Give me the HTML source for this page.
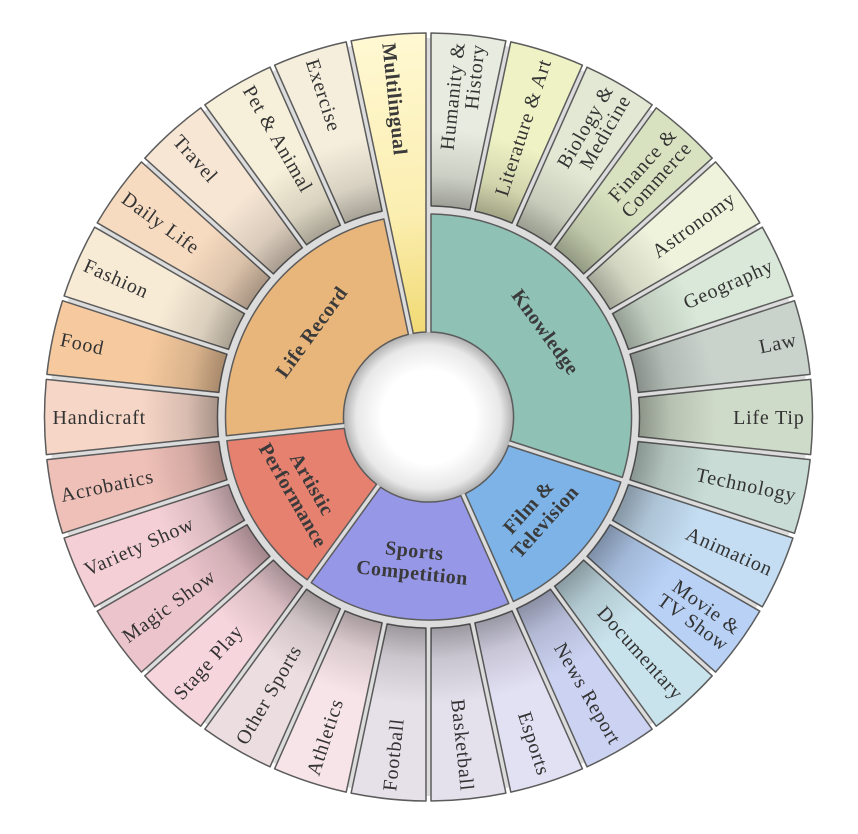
<!DOCTYPE html>
<html><head><meta charset="utf-8"><style>
html,body{margin:0;padding:0;background:#fff;}
svg{display:block;}
text{font-family:"Liberation Serif",serif;fill:#333;font-size:20px;letter-spacing:0.8px;}
.b{font-weight:bold;font-size:20px;fill:#3a3a3a;letter-spacing:0.5px;}
</style></head><body>
<svg width="858" height="834" viewBox="0 0 858 834" xmlns="http://www.w3.org/2000/svg">
<defs>
<path id="leaf" d="M -19.57 -210.10 L -37.65 -382.16 A 384 384 0 0 1 37.65 -382.16 L 19.57 -210.10 A 211 211 0 0 0 -19.57 -210.10 Z"/>
<path id="multi" d="M -6.40 -84.79 L -37.65 -382.16 A 384 384 0 0 1 37.65 -382.16 L 6.40 -84.79 A 85 85 0 0 0 -6.40 -84.79 Z"/>
<path id="i54" d="M -67.30 -51.98 L -162.76 -121.34 A 203 203 0 0 1 162.76 -121.34 L 67.30 -51.98 A 85 85 0 0 0 -67.30 -51.98 Z"/>
<path id="i24" d="M -32.29 -78.67 L -80.28 -186.47 A 203 203 0 0 1 80.28 -186.47 L 32.29 -78.67 A 85 85 0 0 0 -32.29 -78.67 Z"/>
<path id="i30" d="M -40.34 -74.86 L -99.34 -177.05 A 203 203 0 0 1 99.34 -177.05 L 40.34 -74.86 A 85 85 0 0 0 -40.34 -74.86 Z"/>
<path id="i42" d="M -55.02 -64.84 L -133.97 -152.53 A 203 203 0 0 1 133.97 -152.53 L 55.02 -64.84 A 85 85 0 0 0 -55.02 -64.84 Z"/>
<radialGradient id="shade" gradientUnits="userSpaceOnUse" cx="0" cy="0" r="384">
<stop offset="0.55" stop-color="#000" stop-opacity="0.32"/>
<stop offset="0.63" stop-color="#000" stop-opacity="0.12"/>
<stop offset="0.75" stop-color="#000" stop-opacity="0"/>
</radialGradient>
<linearGradient id="mg" gradientUnits="userSpaceOnUse" x1="0" y1="-382" x2="0" y2="-85">
<stop offset="0" stop-color="#fff8d2"/><stop offset="0.6" stop-color="#fbeeb0"/><stop offset="1" stop-color="#f1da74"/>
</linearGradient>
<radialGradient id="hole" cx="0.5" cy="0.5" r="0.5">
<stop offset="0.55" stop-color="#fff"/><stop offset="0.85" stop-color="#e8e8e8"/><stop offset="1" stop-color="#b0b0b0"/>
</radialGradient>
</defs>
<g transform="translate(428.5,417)">
<circle r="232" fill="none" stroke="#dcdcdc" stroke-width="294"/>
<circle r="85" fill="url(#hole)"/>
<g stroke="#5c5c5c" stroke-width="1.5" stroke-linejoin="round">
<use href="#i54" transform="rotate(54)" fill="#8fc1b5"/>
<use href="#i24" transform="rotate(132)" fill="#7db3e6"/>
<use href="#i30" transform="rotate(186)" fill="#9797e8"/>
<use href="#i24" transform="rotate(240)" fill="#e6806f"/>
<use href="#i42" transform="rotate(306)" fill="#e8b57a"/>
<use href="#multi" transform="rotate(354)" fill="url(#mg)"/>
<use href="#leaf" transform="rotate(6)" fill="#e8ebdf"/>
<use href="#leaf" transform="rotate(18)" fill="#eef2c4"/>
<use href="#leaf" transform="rotate(30)" fill="#e3e8d4"/>
<use href="#leaf" transform="rotate(42)" fill="#d8e2c0"/>
<use href="#leaf" transform="rotate(54)" fill="#eff3dc"/>
<use href="#leaf" transform="rotate(66)" fill="#d9e8d8"/>
<use href="#leaf" transform="rotate(78)" fill="#c9d3cc"/>
<use href="#leaf" transform="rotate(90)" fill="#cfdbc9"/>
<use href="#leaf" transform="rotate(102)" fill="#c9dcd6"/>
<use href="#leaf" transform="rotate(114)" fill="#c4ddf2"/>
<use href="#leaf" transform="rotate(126)" fill="#b8d1f5"/>
<use href="#leaf" transform="rotate(138)" fill="#c9e3ec"/>
<use href="#leaf" transform="rotate(150)" fill="#ccd3f2"/>
<use href="#leaf" transform="rotate(162)" fill="#e2e0f3"/>
<use href="#leaf" transform="rotate(174)" fill="#e4e0ec"/>
<use href="#leaf" transform="rotate(186)" fill="#e6e0e8"/>
<use href="#leaf" transform="rotate(198)" fill="#f7e4e8"/>
<use href="#leaf" transform="rotate(210)" fill="#ecdde0"/>
<use href="#leaf" transform="rotate(222)" fill="#f6d5dc"/>
<use href="#leaf" transform="rotate(234)" fill="#ecc4cc"/>
<use href="#leaf" transform="rotate(246)" fill="#f4d0d6"/>
<use href="#leaf" transform="rotate(258)" fill="#efc0b8"/>
<use href="#leaf" transform="rotate(270)" fill="#f6d6c7"/>
<use href="#leaf" transform="rotate(282)" fill="#f6ca9e"/>
<use href="#leaf" transform="rotate(294)" fill="#f8ebd6"/>
<use href="#leaf" transform="rotate(306)" fill="#f7dbc0"/>
<use href="#leaf" transform="rotate(318)" fill="#f7e6d4"/>
<use href="#leaf" transform="rotate(330)" fill="#f6efd9"/>
<use href="#leaf" transform="rotate(342)" fill="#f5eedd"/>
</g>
<g fill="url(#shade)" stroke="none">
<use href="#leaf" transform="rotate(6)"/><use href="#leaf" transform="rotate(18)"/><use href="#leaf" transform="rotate(30)"/>
<use href="#leaf" transform="rotate(42)"/><use href="#leaf" transform="rotate(54)"/><use href="#leaf" transform="rotate(66)"/>
<use href="#leaf" transform="rotate(78)"/><use href="#leaf" transform="rotate(90)"/><use href="#leaf" transform="rotate(102)"/>
<use href="#leaf" transform="rotate(114)"/><use href="#leaf" transform="rotate(126)"/><use href="#leaf" transform="rotate(138)"/>
<use href="#leaf" transform="rotate(150)"/><use href="#leaf" transform="rotate(162)"/><use href="#leaf" transform="rotate(174)"/>
<use href="#leaf" transform="rotate(186)"/><use href="#leaf" transform="rotate(198)"/><use href="#leaf" transform="rotate(210)"/>
<use href="#leaf" transform="rotate(222)"/><use href="#leaf" transform="rotate(234)"/><use href="#leaf" transform="rotate(246)"/>
<use href="#leaf" transform="rotate(258)"/><use href="#leaf" transform="rotate(270)"/><use href="#leaf" transform="rotate(282)"/>
<use href="#leaf" transform="rotate(294)"/><use href="#leaf" transform="rotate(306)"/><use href="#leaf" transform="rotate(318)"/>
<use href="#leaf" transform="rotate(330)"/><use href="#leaf" transform="rotate(342)"/>
</g>

<g text-anchor="end">
<text transform="rotate(-84)" x="376" y="-3">Humanity &amp;</text>
<text transform="rotate(-84)" x="376" y="17">History</text>
<text transform="rotate(-72)" x="376" y="7">Literature &amp; Art</text>
<text transform="rotate(-60)" x="376" y="-3">Biology &amp;</text>
<text transform="rotate(-60)" x="376" y="17">Medicine</text>
<text transform="rotate(-48)" x="376" y="-3">Finance &amp;</text>
<text transform="rotate(-48)" x="376" y="17">Commerce</text>
<text transform="rotate(-36)" x="376" y="7">Astronomy</text>
<text transform="rotate(-24)" x="376" y="7">Geography</text>
<text transform="rotate(-12)" x="376" y="7">Law</text>
<text transform="rotate(0)" x="376" y="7">Life Tip</text>
<text transform="rotate(12)" x="376" y="7">Technology</text>
<text transform="rotate(24)" x="376" y="7">Animation</text>
<text transform="rotate(36)" x="376" y="-3">Movie &amp;</text>
<text transform="rotate(36)" x="376" y="17">TV Show</text>
<text transform="rotate(48)" x="376" y="7">Documentary</text>
<text transform="rotate(60)" x="376" y="7">News Report</text>
<text transform="rotate(72)" x="376" y="7">Esports</text>
<text transform="rotate(84)" x="376" y="7">Basketball</text>
</g>
<g text-anchor="start">
<text transform="rotate(276)" x="-376" y="7">Football</text>
<text transform="rotate(288)" x="-376" y="7">Athletics</text>
<text transform="rotate(300)" x="-376" y="7">Other Sports</text>
<text transform="rotate(312)" x="-376" y="7">Stage Play</text>
<text transform="rotate(324)" x="-376" y="7">Magic Show</text>
<text transform="rotate(336)" x="-376" y="7">Variety Show</text>
<text transform="rotate(348)" x="-376" y="7">Acrobatics</text>
<text transform="rotate(0)" x="-376" y="7">Handicraft</text>
<text transform="rotate(12)" x="-376" y="7">Food</text>
<text transform="rotate(24)" x="-376" y="7">Fashion</text>
<text transform="rotate(36)" x="-376" y="7">Daily Life</text>
<text transform="rotate(48)" x="-376" y="7">Travel</text>
<text transform="rotate(60)" x="-376" y="-2">Pet &amp; Animal</text>
<text transform="rotate(72)" x="-376" y="7">Exercise</text>
<text class="b" transform="rotate(84)" x="-376" y="7">Multilingual</text>
</g>
<g text-anchor="middle">
<text class="b" transform="rotate(54) translate(0,-145)" y="7">Knowledge</text>
<text class="b" transform="rotate(132) translate(0,-145) rotate(180)" y="-4">Film &amp;</text>
<text class="b" transform="rotate(132) translate(0,-145) rotate(180)" y="18">Television</text>
<text class="b" transform="rotate(186) translate(0,-145) rotate(180)" y="-4">Sports</text>
<text class="b" transform="rotate(186) translate(0,-145) rotate(180)" y="18">Competition</text>
<text class="b" transform="rotate(240) translate(0,-145) rotate(180)" y="-4">Artistic</text>
<text class="b" transform="rotate(240) translate(0,-145) rotate(180)" y="18">Performance</text>
<text class="b" transform="rotate(306) translate(0,-145)" y="7">Life Record</text>
</g>
</g>
</svg>
</body></html>
